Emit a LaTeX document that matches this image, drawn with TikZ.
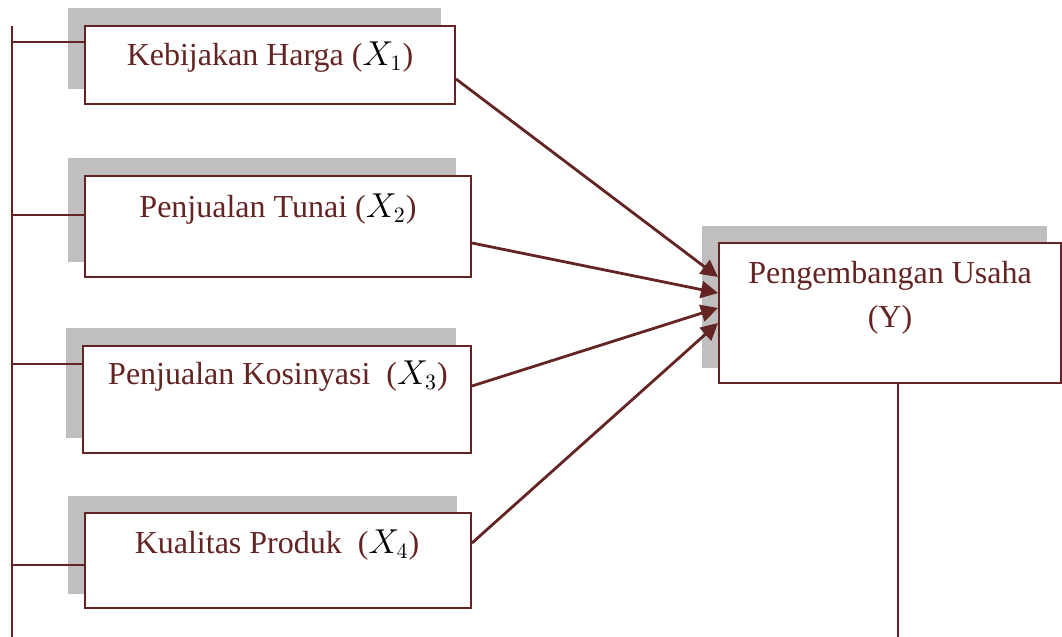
\documentclass[tikz,border=0pt]{standalone}
\usepackage{fontspec}
\setmainfont{Liberation Serif}
\usetikzlibrary{calc,arrows.meta}
\definecolor{maroon}{RGB}{99,36,35}
\definecolor{shade}{RGB}{191,191,191}
\newcommand{\mx}[1]{\textcolor{black}{$X_{#1}$}}
\begin{document}
\begin{tikzpicture}[x=0.5pt,y=-0.5pt,
  box/.style={draw=maroon,line width=1pt,fill=white,rectangle,inner sep=0pt},
  shadowbox/.style={fill=shade},
  lbl/.style={anchor=base,inner sep=0pt,text=maroon,font=\fontsize{16}{20}\selectfont},
  conn/.style={draw=maroon,line width=1pt},
  arr/.style={draw=maroon,line width=1.4pt,-{Triangle[length=8.5pt,width=8.5pt]}}]
\useasboundingbox (0,0) rectangle (1062,637);
% shadows
\fill[shadowbox] (68,8) rectangle (441,89);
\fill[shadowbox] (68,158) rectangle (456,262);
\fill[shadowbox] (66,328) rectangle (456,438);
\fill[shadowbox] (68,496) rectangle (457,594);
\fill[shadowbox] (702,226) rectangle (1047,368);
% boxes
\node[box,minimum width=185pt,minimum height=39pt] (b1) at (270,65) {};
\node[box,minimum width=193pt,minimum height=50.5pt] (b2) at (278,226.5) {};
\node[box,minimum width=194pt,minimum height=53.5pt] (b3) at (277,399.5) {};
\node[box,minimum width=193pt,minimum height=47.5pt] (b4) at (278,560.5) {};
\node[box,minimum width=171pt,minimum height=70pt] (b5) at (890,313) {};
% labels
\node[lbl] (t1) at (270,65) {Kebijakan Harga (\mx{1})};
\node[lbl] (t2) at (278,217) {Penjualan Tunai (\mx{2})};
\node[lbl] (t3) at (278,384) {Penjualan Kosinyasi\ \ (\mx{3})};
\node[lbl] (t4) at (277,553) {Kualitas Produk\ \ (\mx{4})};
\node[lbl] (t5) at (890,283) {Pengembangan Usaha};
\node[lbl] (t6) at (890,327) {(Y)};
% left bracket line
\coordinate (ltop) at (12,26);
\coordinate (lbot) at (12,637);
\draw[conn] (ltop) -- (lbot);
\coordinate (h1) at (12,42);
\coordinate (h2) at (12,215);
\coordinate (h3) at (12,364);
\coordinate (h4) at (12,565);
\draw[conn] (h1) -- (h1 -| b1.west);
\draw[conn] (h2) -- (h2 -| b2.west);
\draw[conn] (h3) -- (h3 -| b3.west);
\draw[conn] (h4) -- (h4 -| b4.west);
% bottom line from Y
\coordinate (ybot) at (898,637);
\draw[conn] (b5.south -| ybot) -- (ybot);
% arrows
\draw[arr] ($(b1.east)+(0,14)$) -- ($(b5.west)+(0,-36)$);
\draw[arr] ($(b2.east)+(0,16.5)$) -- ($(b5.west)+(0,-20)$);
\draw[arr] ($(b3.east)+(0,-13.5)$) -- ($(b5.west)+(0,-5)$);
\draw[arr] ($(b4.east)+(0,-17.5)$) -- ($(b5.west)+(0,10)$);
\end{tikzpicture}
\end{document}
